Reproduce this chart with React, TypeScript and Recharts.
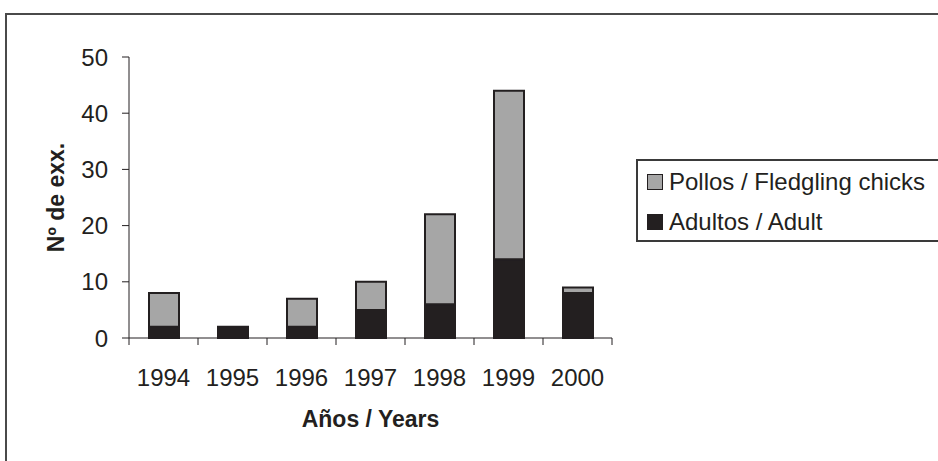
import { BarChart, Bar, XAxis, YAxis, Legend } from 'recharts';

// Nº de ejemplares por año
const years = ['1994', '1995', '1996', '1997', '1998', '1999', '2000'];
const adults = [2, 2, 2, 5, 6, 14, 8];
const chicks = [6, 0, 5, 5, 16, 30, 1];
const yTicks = [0, 10, 20, 30, 40, 50];

const series = [
  { key: 'chicks', name: 'Pollos / Fledgling chicks', color: '#a6a6a6' },
  { key: 'adults', name: 'Adultos / Adult', color: '#231f20' },
];

const data = years.map((year, i) => ({ year, adults: adults[i], chicks: chicks[i] }));

const FONT = '"Liberation Sans", Arial, sans-serif';
const INK = '#231f20';
const CAT_W = 69; // width of one category band

function YearTick(props: any) {
  const { x, y, payload, index } = props;
  const half = CAT_W / 2;
  return (
    <g>
      <line x1={x - half} y1={y} x2={x - half} y2={y + 7} stroke={INK} strokeWidth={1} />
      {index === years.length - 1 && (
        <line x1={x + half} y1={y} x2={x + half} y2={y + 7} stroke={INK} strokeWidth={1} />
      )}
      <text x={x} y={y + 39} textAnchor="middle" dominantBaseline="central" fontSize={24} fill={INK} fontFamily={FONT}>
        {payload.value}
      </text>
    </g>
  );
}

function ChartLegend() {
  return (
    <div style={{ border: '2px solid #3a3a3a', height: 78, paddingTop: 1, background: '#fff', fontFamily: FONT }}>
      {series.map((s) => (
        <div key={s.key} style={{ height: 40, display: 'flex', alignItems: 'center' }}>
          <span style={{ display: 'inline-block', width: 14, height: 14, marginLeft: 9, marginRight: 6, background: s.color, border: `1.5px solid ${INK}` }} />
          <span style={{ fontSize: 24, color: INK, whiteSpace: 'nowrap' }}>{s.name}</span>
        </div>
      ))}
    </div>
  );
}

export default function App() {
  return (
    <div style={{ position: 'absolute', left: 0, top: 0, width: 938, height: 461, overflow: 'hidden', background: '#fff' }}>
      <div style={{ position: 'absolute', left: 5, top: 13, width: 1000, height: 500, border: '2px solid #4a4a4a' }} />
      <div style={{ position: 'absolute', left: 0, top: 0 }}>
        <BarChart width={938} height={461} data={data} margin={{ top: 57, right: 326, bottom: 83, left: 39 }}>
          <XAxis
            dataKey="year"
            height={40}
            stroke={INK}
            tickLine={false}
            tickSize={0}
            tickMargin={0}
            tick={<YearTick />}
            interval={0}
            label={{
              content: (p: any) => (
                <text x={p.viewBox.x + p.viewBox.width / 2} y={419} textAnchor="middle" dominantBaseline="central" fontSize={23} fontWeight="bold" fill={INK} fontFamily={FONT}>
                  Años / Years
                </text>
              ),
            }}
          />
          <YAxis
            width={90}
            domain={[0, 50]}
            ticks={yTicks}
            interval={0}
            stroke={INK}
            tickSize={7}
            tickMargin={14}
            tick={{ fontSize: 24, fill: INK, fontFamily: FONT }}
            label={{
              content: (p: any) => {
                const cy = p.viewBox.y + p.viewBox.height / 2;
                return (
                  <text x={56} y={cy} transform={`rotate(-90, 56, ${cy})`} textAnchor="middle" dominantBaseline="central" fontSize={23} fontWeight="bold" fill={INK} fontFamily={FONT}>
                    Nº de exx.
                  </text>
                );
              },
            }}
          />
          <Bar dataKey="adults" name="Adultos / Adult" stackId="a" fill="#231f20" stroke={INK} strokeWidth={2} barSize={30} isAnimationActive={false} />
          <Bar dataKey="chicks" name="Pollos / Fledgling chicks" stackId="a" fill="#a6a6a6" stroke={INK} strokeWidth={2} barSize={30} isAnimationActive={false} />
          <Legend
            layout="vertical"
            align="center"
            verticalAlign="middle"
            content={<ChartLegend />}
            wrapperStyle={{ left: 636, top: 159, width: 330 }}
          />
        </BarChart>
      </div>
    </div>
  );
}
